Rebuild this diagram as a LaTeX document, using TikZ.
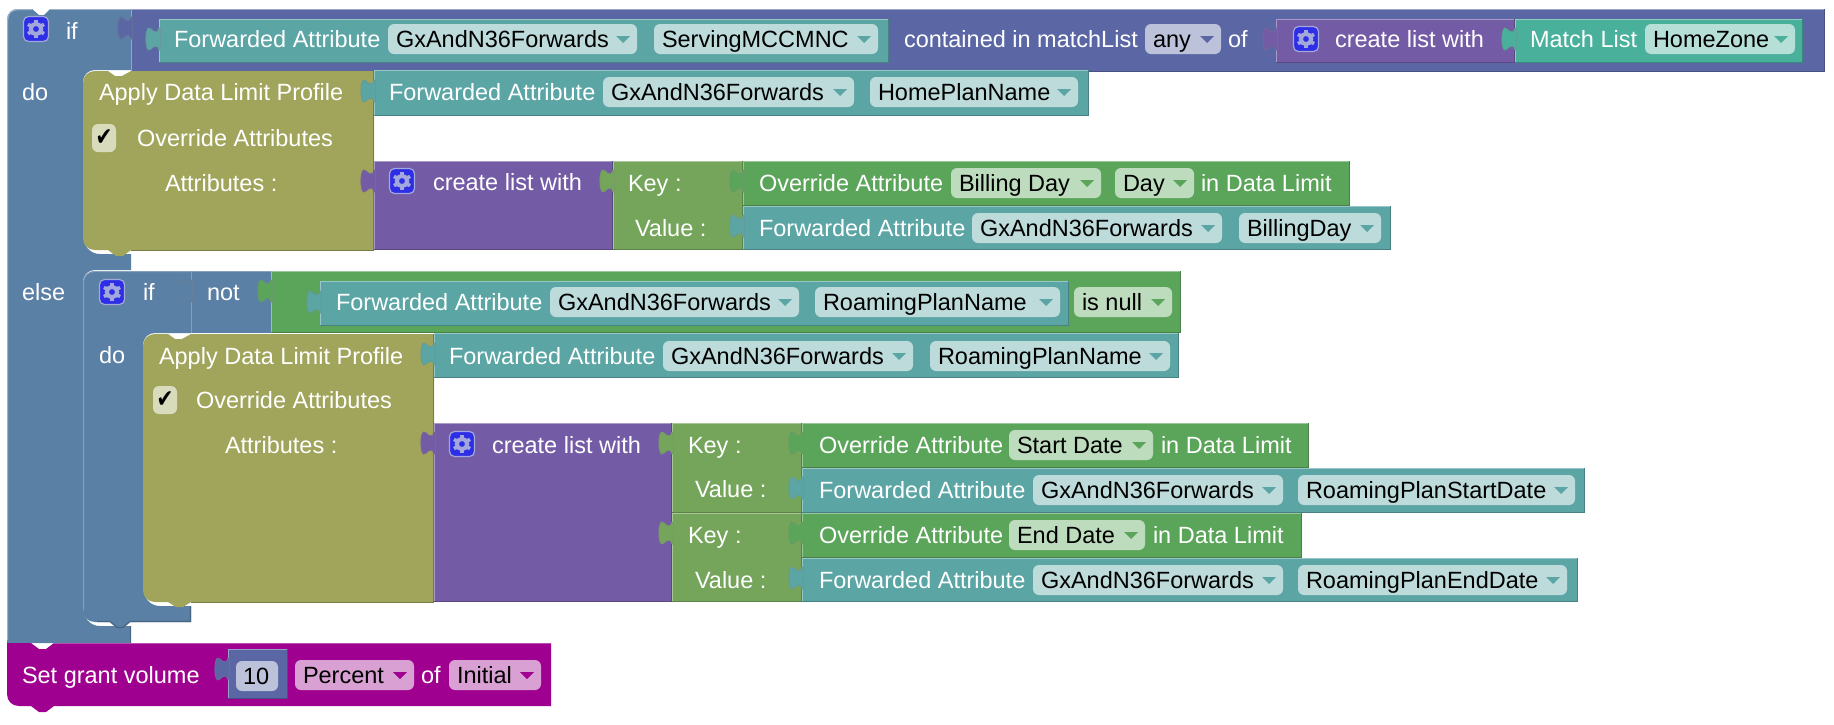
\documentclass[tikz,border=0pt]{standalone}
\usepackage{fontspec}
\setmainfont{Liberation Sans}
\newfontfamily\symfont{DejaVu Sans}
\definecolor{cblue}{HTML}{5B80A5}
\definecolor{cindigo}{HTML}{5B67A5}
\definecolor{cteal}{HTML}{5BA5A5}
\definecolor{colive}{HTML}{A0A55B}
\definecolor{cpurple}{HTML}{745BA5}
\definecolor{ckv}{HTML}{74A55B}
\definecolor{cgreen}{HTML}{5BA55B}
\definecolor{cmatch}{HTML}{48B09B}
\definecolor{cmag}{HTML}{A00090}
\definecolor{pteal}{HTML}{BDDBDB}
\definecolor{pgreen}{HTML}{BDDBBD}
\definecolor{pindigo}{HTML}{BDC2DB}
\definecolor{pmatch}{HTML}{B6DFD7}
\definecolor{pmag}{HTML}{D9A0D3}
\definecolor{gearblue}{HTML}{2E2EE6}
\definecolor{gearfg}{HTML}{A3A8DC}
\definecolor{checkbg}{HTML}{D9DBBD}
\tikzset{
  lbl/.style={anchor=base west,inner sep=0pt,outer sep=0pt,text=white,font=\fontsize{23.5}{26}\selectfont},
  plbl/.style={lbl,text=black},
}
% name x1 y1 x2 y2 colour
\newcommand\blk[6]{%
  \fill[#6] (#2,#3) rectangle (#4,#5);
  \draw[#6!62!white,line width=1.2pt] (#2+.6,#5) -- (#2+.6,#3+.6) -- (#4,#3+.6);
  \draw[#6!78!black,line width=1.2pt] (#4-.6,#3) -- (#4-.6,#5-.6) -- (#2,#5-.6);
  \coordinate (#1) at (#2,#3);
}
% x yc colour
\newcommand\tabat[3]{%
  \fill[#3,draw=#3!70!gray,line width=.8pt] (#1+1.5,#2-11) -- (#1,#2-11) .. controls (#1-1,#2-7) and (#1-3,#2-6) .. (#1-5,#2-7.5) .. controls (#1-7,#2-9.5) and (#1-9,#2-11) .. (#1-10.5,#2-11) .. controls (#1-14,#2-9) and (#1-14,#2+9) .. (#1-10.5,#2+11) .. controls (#1-9,#2+11) and (#1-7,#2+9.5) .. (#1-5,#2+7.5) .. controls (#1-3,#2+6) and (#1-1,#2+7) .. (#1,#2+11) -- (#1+1.5,#2+11) -- cycle;
}
% name x yc text
\newcommand\lbl[4]{\node[lbl] (#1) at (#2,#3+8) {#4};}
% name x1 x2 yc text fill arrow
\newcommand\pill[7]{%
  \fill[#6,rounded corners=6pt] (#2,#4-15) rectangle (#3,#4+15);
  \node[plbl] (#1) at (#2+8,#4+8) {#5};
  \fill[#7] (#3-21,#4-3) -- (#3-7,#4-3) -- (#3-14,#4+4) -- cycle;
}
% x y
\newcommand\gear[2]{%
  \fill[gearblue,draw=gearfg,line width=1.2pt,rounded corners=5pt] (#1-12.5,#2-12.5) rectangle (#1+12.5,#2+12.5);
  \draw[gearfg,line width=4pt] (#1,#2) circle (5.2);
  \foreach \a in {30,90,...,330}{\draw[gearfg,line width=3.6pt] ({#1+6*cos(\a)},{#2+6*sin(\a)}) -- ({#1+9.3*cos(\a)},{#2+9.3*sin(\a)});}
}
% name x yc
\newcommand\chk[3]{%
  \fill[checkbg,rounded corners=6pt] (#2-12,#3-14) rectangle (#2+12,#3+14);
  \node[inner sep=0pt,xscale=.8,font=\symfont\fontsize{25}{27}\selectfont] (#1) at (#2,#3) {✔};
}
\begin{document}
\begin{tikzpicture}[x=1pt,y=-1pt]
\useasboundingbox (0,0) rectangle (1834,724);
\fill[white] (0,0) rectangle (1834,724);
% ---------- outer if
\fill[cblue] (7,20) .. controls (7,13) and (12,9) .. (18,9) -- (32,9) -- (39,15) -- (44,15) -- (50,9) -- (131,9) -- (131,70) -- (95,70) .. controls (88,70) and (83,75) .. (83,82) -- (83,234) .. controls (83,246) and (90,254) .. (100,254) -- (131,254) -- (131,270) -- (95,270) .. controls (88,270) and (83,275) .. (83,282) -- (83,606) .. controls (83,618) and (90,626) .. (100,626) -- (131,626) -- (131,643) -- (7,643) -- cycle;
\draw[cblue!60!white,line width=1.2pt] (7.6,640) -- (7.6,20) .. controls (7.6,13) and (12,9.6) .. (18,9.6) -- (32,9.6);
\draw[cblue!60!white,line width=1.2pt] (50,9.6) -- (131,9.6);
\draw[cblue!78!black,line width=1.2pt] (130.4,626) -- (130.4,643);
% first condition
\blk{cond}{131}{9}{1825}{72}{cindigo}
\tabat{131}{28}{cindigo}
\blk{fa1}{159}{19}{889}{63}{cteal}
\tabat{159}{39}{cteal}
\lbl{t1}{174}{39}{Forwarded Attribute}
\pill{p1}{388}{637}{39}{GxAndN36Forwards}{pteal}{cteal}
\pill{p2}{654}{878}{39}{ServingMCCMNC}{pteal}{cteal}
\lbl{t2}{904}{39}{contained in matchList}
\pill{p3}{1145}{1221}{39}{any}{pindigo}{cindigo}
\lbl{t3}{1228}{39}{of}
\blk{cl1}{1276}{19}{1515}{63}{cpurple}
\tabat{1276}{39}{cpurple}
\gear{1306}{39}
\lbl{t4}{1335}{39}{create list with}
\blk{ml}{1515}{19}{1803}{63}{cmatch}
\tabat{1515}{39}{cmatch}
\lbl{t5}{1530}{39}{Match List}
\pill{p4}{1645}{1795}{39}{HomeZone}{pmatch}{cmatch}
\gear{36}{29}
\lbl{t6}{66}{31}{if}
\lbl{t7}{22}{92}{do}
\lbl{t8}{22}{292}{else}
% first apply
\fill[colive] (95,71) -- (108,71) -- (115,76) -- (122,76) -- (131,71) -- (374,71) -- (374,250) -- (131,250) -- (123,256) -- (116,256) -- (108,250) -- (95,250) .. controls (88,250) and (83,245) .. (83,238) -- (83,83) .. controls (83,76) and (88,71) .. (95,71) -- cycle;
\draw[colive!75!black,line width=1pt] (131,250) -- (373.5,250) -- (373.5,71);
\blk{fa2}{374}{70}{1089}{116}{cteal}
\tabat{374}{91}{cteal}
\lbl{t9}{99}{92}{Apply Data Limit Profile}
\chk{c1}{104}{138}
\lbl{t10}{137}{138}{Override Attributes}
\lbl{t11}{165}{183}{Attributes :}
\lbl{t12}{389}{92}{Forwarded Attribute}
\pill{p5}{603}{854}{92}{GxAndN36Forwards}{pteal}{cteal}
\pill{p6}{870}{1078}{92}{HomePlanName}{pteal}{cteal}
\blk{cl2}{374}{161}{613}{250}{cpurple}
\tabat{374}{181}{cpurple}
\gear{402}{181}
\lbl{t13}{433}{182}{create list with}
\blk{kv1}{613}{161}{743}{250}{ckv}
\tabat{613}{181}{ckv}
\lbl{t14}{628}{183}{Key :}
\lbl{t15}{635}{228}{Value :}
\blk{oa1}{743}{161}{1350}{206}{cgreen}
\tabat{743}{181}{cgreen}
\lbl{t16}{759}{183}{Override Attribute}
\pill{p7}{951}{1101}{183}{Billing Day}{pgreen}{cgreen}
\pill{p8}{1115}{1194}{183}{Day}{pgreen}{cgreen}
\lbl{t17}{1201}{183}{in Data Limit}
\blk{fa3}{743}{206}{1391}{250}{cteal}
\tabat{743}{226}{cteal}
\lbl{t18}{759}{228}{Forwarded Attribute}
\pill{p9}{972}{1222}{228}{GxAndN36Forwards}{pteal}{cteal}
\pill{p10}{1239}{1381}{228}{BillingDay}{pteal}{cteal}
% ---------- inner if
\fill[cblue] (83,283) .. controls (83,276) and (88,271) .. (95,271) -- (191,271) -- (191,333) -- (155,333) .. controls (148,333) and (143,338) .. (143,345) -- (143,586) .. controls (143,598) and (150,606) .. (160,606) -- (191,606) -- (191,622) -- (130,622) -- (123,628) -- (117,628) -- (110,622) -- (95,622) .. controls (88,622) and (83,617) .. (83,610) -- cycle;
\draw[cblue!75!white,line width=1pt] (83.5,610) -- (83.5,283) .. controls (83.5,276) and (88,271.5) .. (95,271.5) -- (191,271.5);
\draw[cblue!78!black,line width=1.2pt] (190.4,606) -- (190.4,621.4) -- (130,621.4) -- (123,627.4) -- (117,627.4) -- (110,621.4) -- (97,621.4);
\gear{112}{292}
\lbl{t19}{143}{292}{if}
\lbl{t20}{99}{355}{do}
\fill[cblue] (191,271) rectangle (271,333);
\draw[cblue!75!white,line width=1pt] (191.5,333) -- (191.5,271.5) -- (271,271.5);
\coordinate (nt) at (191,271);
\tabat{191}{291}{cblue}
\lbl{t21}{207}{292}{not}
\blk{nul}{271}{271}{1181}{333}{cgreen}
\tabat{271}{291}{cgreen}
\blk{fa4}{320}{281}{1069}{326}{cteal}
\tabat{320}{302}{cteal}
\lbl{t22}{336}{302}{Forwarded Attribute}
\pill{p11}{550}{799}{302}{GxAndN36Forwards}{pteal}{cteal}
\pill{p12}{815}{1060}{302}{RoamingPlanName}{pteal}{cteal}
\pill{p13}{1074}{1172}{302}{is null}{pgreen}{cgreen}
% second apply
\fill[colive] (155,334) -- (168,334) -- (175,339) -- (182,339) -- (191,334) -- (434,334) -- (434,602) -- (191,602) -- (183,607) -- (176,607) -- (168,602) -- (155,602) .. controls (148,602) and (143,597) .. (143,590) -- (143,346) .. controls (143,339) and (148,334) .. (155,334) -- cycle;
\draw[colive!75!black,line width=1pt] (191,602) -- (433.5,602) -- (433.5,334);
\blk{fa5}{434}{333}{1179}{378}{cteal}
\tabat{434}{354}{cteal}
\lbl{t23}{159}{356}{Apply Data Limit Profile}
\chk{c2}{165}{400}
\lbl{t24}{196}{400}{Override Attributes}
\lbl{t25}{225}{445}{Attributes :}
\lbl{t26}{449}{356}{Forwarded Attribute}
\pill{p14}{663}{913}{356}{GxAndN36Forwards}{pteal}{cteal}
\pill{p15}{930}{1170}{356}{RoamingPlanName}{pteal}{cteal}
\blk{cl3}{434}{423}{672}{602}{cpurple}
\tabat{434}{443}{cpurple}
\gear{462}{444}
\lbl{t27}{492}{445}{create list with}
\blk{kv2}{672}{423}{802}{513}{ckv}
\tabat{672}{443}{ckv}
\lbl{t28}{688}{445}{Key :}
\lbl{t29}{695}{489}{Value :}
\blk{kv3}{672}{513}{802}{602}{ckv}
\tabat{672}{533}{ckv}
\lbl{t30}{688}{535}{Key :}
\lbl{t31}{695}{580}{Value :}
\blk{oa2}{802}{423}{1309}{468}{cgreen}
\tabat{802}{443}{cgreen}
\lbl{t32}{819}{445}{Override Attribute}
\pill{p16}{1009}{1153}{445}{Start Date}{pgreen}{cgreen}
\lbl{t33}{1161}{445}{in Data Limit}
\blk{fa6}{802}{468}{1585}{513}{cteal}
\tabat{802}{488}{cteal}
\lbl{t34}{819}{490}{Forwarded Attribute}
\pill{p17}{1033}{1283}{490}{GxAndN36Forwards}{pteal}{cteal}
\pill{p18}{1298}{1575}{490}{RoamingPlanStartDate}{pteal}{cteal}
\blk{oa3}{802}{513}{1302}{558}{cgreen}
\tabat{802}{533}{cgreen}
\lbl{t35}{819}{535}{Override Attribute}
\pill{p19}{1009}{1145}{535}{End Date}{pgreen}{cgreen}
\lbl{t36}{1153}{535}{in Data Limit}
\blk{fa7}{802}{558}{1578}{602}{cteal}
\tabat{802}{578}{cteal}
\lbl{t37}{819}{580}{Forwarded Attribute}
\pill{p20}{1033}{1283}{580}{GxAndN36Forwards}{pteal}{cteal}
\pill{p21}{1298}{1567}{580}{RoamingPlanEndDate}{pteal}{cteal}
% ---------- set grant
\fill[cmag] (7,643) -- (31,643) -- (39,649) -- (46,649) -- (54,643) -- (551,643) -- (551,706) -- (54,706) -- (46,712) -- (39,712) -- (31,706) -- (19,706) .. controls (12,706) and (7,701) .. (7,694) -- cycle;
\draw[cmag!70!white,line width=1pt] (54,643.5) -- (551,643.5);
\lbl{t38}{22}{675}{Set grant volume}
\blk{num}{228}{649}{288}{699}{cindigo}
\tabat{228}{669}{cindigo}
\fill[pindigo,rounded corners=6pt] (236,661) rectangle (278,691);
\node[plbl] (p22) at (243,684) {10};
\pill{p23}{295}{414}{675}{Percent}{pmag}{cmag}
\lbl{t39}{421}{675}{of}
\pill{p24}{449}{541}{675}{Initial}{pmag}{cmag}
\end{tikzpicture}
\end{document}
